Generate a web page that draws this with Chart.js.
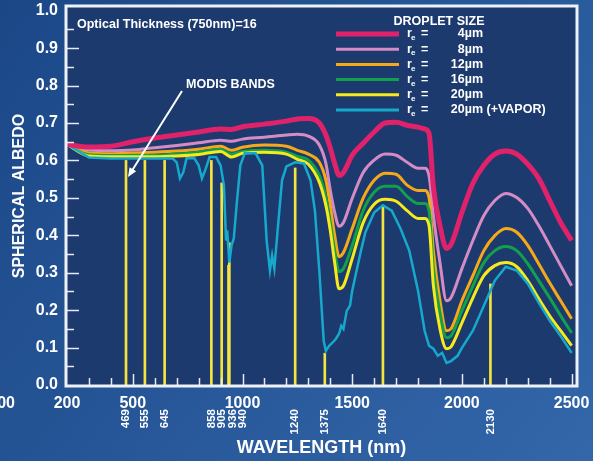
<!DOCTYPE html>
<html>
<head>
<meta charset="utf-8">
<script src="https://cdn.jsdelivr.net/npm/chart.js@4.4.1/dist/chart.umd.min.js"></script>
<style>
    html, body { margin: 0; padding: 0; background: #22518f; }
    #wrap { width: 593px; height: 461px; }
</style>
</head>
<body>
<div id="wrap"><canvas id="albedoChart" width="593" height="461"></canvas></div>
<script>
// wavelength grid (nm) for the smooth droplet curves
const wavelengths = [200, 300, 400, 500, 600, 700, 800, 900, 950, 1000, 1100, 1200, 1250,
    1300, 1350, 1380, 1400, 1420, 1440, 1460, 1500, 1550, 1600, 1650, 1700, 1750, 1800, 1830,
    1850, 1870, 1900, 1930, 1950, 2000, 2050, 2100, 2150, 2200, 2250, 2300, 2350, 2400, 2450, 2500];

// spherical albedo per droplet size
const albedo4 = [0.643, 0.636, 0.638, 0.650, 0.660, 0.668, 0.676, 0.684, 0.683, 0.690, 0.697, 0.705, 0.711,
    0.712, 0.700, 0.668, 0.633, 0.592, 0.560, 0.568, 0.614, 0.646, 0.676, 0.700, 0.702, 0.694, 0.689, 0.684,
    0.673, 0.528, 0.426, 0.365, 0.375, 0.461, 0.539, 0.587, 0.617, 0.625, 0.617, 0.590, 0.552, 0.493, 0.434, 0.386];
const albedo8 = [0.643, 0.628, 0.626, 0.628, 0.634, 0.640, 0.647, 0.654, 0.651, 0.657, 0.662, 0.668, 0.670,
    0.665, 0.641, 0.592, 0.520, 0.461, 0.424, 0.434, 0.499, 0.568, 0.601, 0.617, 0.614, 0.595, 0.579, 0.579,
    0.560, 0.453, 0.327, 0.225, 0.233, 0.311, 0.386, 0.453, 0.493, 0.512, 0.501, 0.472, 0.426, 0.373, 0.319, 0.265];
const albedo12 = [0.643, 0.620, 0.618, 0.620, 0.622, 0.625, 0.630, 0.638, 0.627, 0.635, 0.641, 0.638, 0.627,
    0.617, 0.595, 0.547, 0.480, 0.400, 0.343, 0.354, 0.418, 0.499, 0.547, 0.566, 0.563, 0.534, 0.520, 0.520,
    0.501, 0.359, 0.225, 0.145, 0.150, 0.225, 0.292, 0.359, 0.399, 0.418, 0.408, 0.373, 0.324, 0.273, 0.225, 0.177];
const albedo16 = [0.643, 0.615, 0.613, 0.614, 0.614, 0.617, 0.622, 0.630, 0.617, 0.624, 0.627, 0.622, 0.611,
    0.601, 0.560, 0.501, 0.434, 0.359, 0.303, 0.311, 0.373, 0.466, 0.515, 0.531, 0.531, 0.504, 0.485, 0.485,
    0.466, 0.311, 0.193, 0.126, 0.131, 0.198, 0.265, 0.327, 0.359, 0.370, 0.359, 0.324, 0.279, 0.233, 0.185, 0.139];
const albedo20 = [0.643, 0.612, 0.610, 0.610, 0.610, 0.612, 0.616, 0.624, 0.609, 0.619, 0.622, 0.617, 0.603,
    0.590, 0.542, 0.480, 0.413, 0.327, 0.257, 0.265, 0.338, 0.434, 0.483, 0.496, 0.491, 0.466, 0.445, 0.445,
    0.426, 0.265, 0.150, 0.097, 0.102, 0.166, 0.233, 0.292, 0.319, 0.327, 0.316, 0.279, 0.231, 0.185, 0.145, 0.105];

// 20um with water vapor absorption (own, finer grid)
const vaporWavelengths = [200, 300, 400, 500, 600, 680, 700, 715, 730, 745, 780, 800, 815, 830, 850,
    880, 900, 915, 925, 930, 940, 950, 960, 975, 990, 1010, 1060, 1090, 1110, 1125, 1135, 1145, 1160,
    1180, 1200, 1240, 1280, 1310, 1330, 1350, 1370, 1380, 1395, 1410, 1425, 1440, 1450, 1460, 1475,
    1490, 1500, 1520, 1540, 1560, 1600, 1640, 1680, 1720, 1760, 1800, 1830, 1850, 1870, 1890, 1910,
    1930, 1950, 1980, 2000, 2050, 2100, 2150, 2200, 2250, 2300, 2350, 2400, 2450, 2500];
const albedo20Vapor = [0.643, 0.608, 0.605, 0.605, 0.605, 0.606, 0.595, 0.552, 0.568, 0.606, 0.606, 0.587,
    0.552, 0.574, 0.609, 0.609, 0.587, 0.534, 0.386, 0.413, 0.327, 0.373, 0.391, 0.493, 0.587, 0.619, 0.619,
    0.587, 0.386, 0.306, 0.346, 0.311, 0.413, 0.547, 0.584, 0.595, 0.592, 0.547, 0.466, 0.306, 0.118, 0.091,
    0.105, 0.113, 0.123, 0.137, 0.158, 0.150, 0.198, 0.212, 0.252, 0.306, 0.359, 0.408, 0.461, 0.480, 0.466,
    0.418, 0.359, 0.252, 0.145, 0.105, 0.097, 0.078, 0.086, 0.059, 0.064, 0.078, 0.099, 0.145, 0.212, 0.279,
    0.316, 0.306, 0.271, 0.220, 0.172, 0.131, 0.086];

// MODIS bands (nm) and how high their marker reaches
const bandCenters = [469, 555, 645, 858, 905, 936, 940, 1240, 1375, 1640, 2130];
const bandTops = [0.60, 0.60, 0.60, 0.60, 0.54, 0.32, 0.38, 0.58, 0.085, 0.48, 0.27];

// axis labels
const xTickLabels = [200, 500, 1000, 1500, 2000, 2500];
const yTickLabels = [0, 0.1, 0.2, 0.3, 0.4, 0.5, 0.6, 0.7, 0.8, 0.9, 1.0];

// legend text
const dropletSizes = [4, 8, 12, 16, 20, 20];
const legendSuffix = ['', '', '', '', '', ' (+VAPOR)'];

const FONT = "'Liberation Sans', Arial, Helvetica, sans-serif";
const WHITE = '#ffffff';
const BAND_COLOR = '#f4e43c';

// legend order: 4, 8, 12, 16, 20, 20+vapor
const seriesColors = ['#e0226a', '#d58cc4', '#f5a919', '#12a04c', '#f6ea1c', '#17a9cc'];
const seriesWidths = [5, 3, 3, 3, 3, 2.5];
const seriesValues = [albedo4, albedo8, albedo12, albedo16, albedo20, albedo20Vapor];
const seriesX = [wavelengths, wavelengths, wavelengths, wavelengths, wavelengths, vaporWavelengths];

function buildDatasets() {
    const sets = seriesValues.map((vals, i) => ({
        type: 'line',
        label: dropletSizes[i] + 'µm' + legendSuffix[i],
        data: seriesX[i].map((w, k) => ({ x: w, y: vals[k] })),
        borderColor: seriesColors[i],
        borderWidth: seriesWidths[i],
        pointRadius: 0,
        cubicInterpolationMode: i === 5 ? 'default' : 'monotone',
        tension: 0,
        order: i === 0 ? 0 : 7 - i
    }));
    sets.push({
        type: 'bar',
        label: 'MODIS bands',
        data: bandCenters.map((b, i) => ({ x: b, y: bandTops[i] })),
        backgroundColor: BAND_COLOR,
        borderWidth: 0,
        barThickness: 2,
        order: 20
    });
    return sets;
}

// background: blue page + navy plot
const backdropPlugin = {
    id: 'backdrop',
    beforeDraw(chart) {
        const { ctx, width, height, chartArea: a } = chart;
        ctx.save();
        const g = ctx.createLinearGradient(0, 0, width, height);
        g.addColorStop(0, '#1b4787');
        g.addColorStop(1, '#3367aa');
        ctx.fillStyle = g;
        ctx.fillRect(0, 0, width, height);
        ctx.fillStyle = '#1d3a6f';
        ctx.fillRect(a.left, a.top, a.right - a.left, a.bottom - a.top);
        ctx.restore();
    }
};

// frame, inside ticks, annotations, legend
const overlayPlugin = {
    id: 'overlay',
    afterDraw(chart) {
        const { ctx, chartArea: a } = chart;
        const xs = chart.scales.x;
        const ys = chart.scales.y;
        ctx.save();

        // ticks pointing into the plot
        ctx.strokeStyle = '#e6ebf3';
        ctx.lineWidth = 1.5;
        for (let v = 300; v <= 2500; v += 100) {
            const px = Math.round(xs.getPixelForValue(v)) + 0.5;
            const len = v % 500 === 0 ? 11 : 7;
            ctx.beginPath();
            ctx.moveTo(px, a.bottom);
            ctx.lineTo(px, a.bottom - len);
            ctx.stroke();
        }
        for (let k = 1; k <= 19; k++) {
            const py = Math.round(ys.getPixelForValue(k * 0.05)) + 0.5;
            const len = k % 2 === 0 ? 12 : 7;
            ctx.beginPath();
            ctx.moveTo(a.left, py);
            ctx.lineTo(a.left + len, py);
            ctx.stroke();
        }

        // white frame
        ctx.strokeStyle = '#eef2f8';
        ctx.lineWidth = 3;
        ctx.strokeRect(a.left - 1, a.top - 1, a.right - a.left + 2, a.bottom - a.top + 2);

        ctx.fillStyle = WHITE;
        ctx.textBaseline = 'middle';
        ctx.font = `bold 12.5px ${FONT}`;
        ctx.textAlign = 'left';
        ctx.fillText('Optical Thickness (750nm)=16', 77, 25);
        ctx.fillText('MODIS BANDS', 186, 85);

        // arrow to the band markers
        drawArrow(ctx, 182, 91, 128, 177);

        // legend
        ctx.textAlign = 'center';
        ctx.fillText('DROPLET SIZE', 439, 22);
        dropletSizes.forEach((size, i) => {
            const y = 34 + i * 15.2;
            ctx.strokeStyle = seriesColors[i];
            ctx.lineWidth = i === 0 ? 5 : 3;
            ctx.beginPath();
            ctx.moveTo(336, y);
            ctx.lineTo(399, y);
            ctx.stroke();
            ctx.fillStyle = WHITE;
            ctx.font = `bold 12.5px ${FONT}`;
            ctx.textAlign = 'left';
            ctx.fillText('r', 407, y);
            ctx.font = `bold 8px ${FONT}`;
            ctx.fillText('e', 411, y + 4);
            ctx.font = `bold 12.5px ${FONT}`;
            ctx.fillText('=', 421, y);
            ctx.textAlign = 'right';
            ctx.fillText(size + 'µm', 483, y);
            if (legendSuffix[i]) {
                ctx.textAlign = 'left';
                ctx.fillText(legendSuffix[i], 483, y);
            }
        });

        // band labels, rotated, spread apart where crowded
        ctx.font = `bold 11.5px ${FONT}`;
        ctx.textAlign = 'right';
        let last = -100;
        bandCenters.forEach(b => {
            let px = xs.getPixelForValue(b);
            if (px - last < 10.5) px = last + 10.5;
            last = px;
            ctx.save();
            ctx.translate(px, 409);
            ctx.rotate(-Math.PI / 2);
            ctx.fillText(String(b), 0, 0);
            ctx.restore();
        });

        // clipped label remnant at bottom left
        ctx.font = `bold 16px ${FONT}`;
        ctx.textAlign = 'right';
        ctx.fillText('00', 15, 404);

        ctx.restore();
    }
};

function drawArrow(ctx, x1, y1, x2, y2) {
    const ang = Math.atan2(y2 - y1, x2 - x1);
    const head = 10;
    ctx.strokeStyle = WHITE;
    ctx.fillStyle = WHITE;
    ctx.lineWidth = 2;
    ctx.beginPath();
    ctx.moveTo(x1, y1);
    ctx.lineTo(x2 - Math.cos(ang) * head * 0.8, y2 - Math.sin(ang) * head * 0.8);
    ctx.stroke();
    ctx.beginPath();
    ctx.moveTo(x2, y2);
    ctx.lineTo(x2 - head * Math.cos(ang - 0.4), y2 - head * Math.sin(ang - 0.4));
    ctx.lineTo(x2 - head * Math.cos(ang + 0.4), y2 - head * Math.sin(ang + 0.4));
    ctx.closePath();
    ctx.fill();
}

function renderChart() {
    const ctx = document.getElementById('albedoChart');
    new Chart(ctx, {
        type: 'line',
        data: { datasets: buildDatasets() },
        options: {
            responsive: false,
            animation: false,
            events: [],
            layout: { padding: { top: 7, right: 17, left: 0, bottom: 0 } },
            plugins: {
                legend: { display: false },
                tooltip: { enabled: false }
            },
            scales: {
                x: {
                    type: 'linear',
                    min: 200,
                    max: 2520,
                    offset: false,
                    grid: { display: false, drawTicks: false },
                    border: { display: false },
                    afterBuildTicks: s => { s.ticks = xTickLabels.map(v => ({ value: v })); },
                    afterFit: s => {
                        s.height = 76;
                        s.paddingLeft = 0;
                        s.paddingRight = 0;
                    },
                    ticks: {
                        color: WHITE,
                        font: { family: FONT, size: 16, weight: 'bold' },
                        padding: 9,
                        maxRotation: 0,
                        autoSkip: false,
                        callback: v => String(v)
                    },
                    title: {
                        display: true,
                        text: 'WAVELENGTH (nm)',
                        color: WHITE,
                        font: { family: FONT, size: 18, weight: 'bold' },
                        padding: { top: 0, bottom: 2 }
                    }
                },
                y: {
                    type: 'linear',
                    min: 0,
                    max: 1.01,
                    grid: { display: false, drawTicks: false },
                    border: { display: false },
                    afterBuildTicks: s => { s.ticks = yTickLabels.map(v => ({ value: v })); },
                    afterFit: s => {
                        s.width = 67;
                        s.paddingTop = 0;
                        s.paddingBottom = 0;
                    },
                    ticks: {
                        color: WHITE,
                        font: { family: FONT, size: 16, weight: 'bold' },
                        padding: 9,
                        callback: v => v.toFixed(1)
                    },
                    title: {
                        display: true,
                        text: 'SPHERICAL ALBEDO',
                        color: WHITE,
                        font: { family: FONT, size: 16, weight: 'bold' },
                        padding: { top: 10, bottom: 0 }
                    }
                }
            }
        },
        plugins: [backdropPlugin, overlayPlugin]
    });
}

renderChart();
</script>
</body>
</html>
